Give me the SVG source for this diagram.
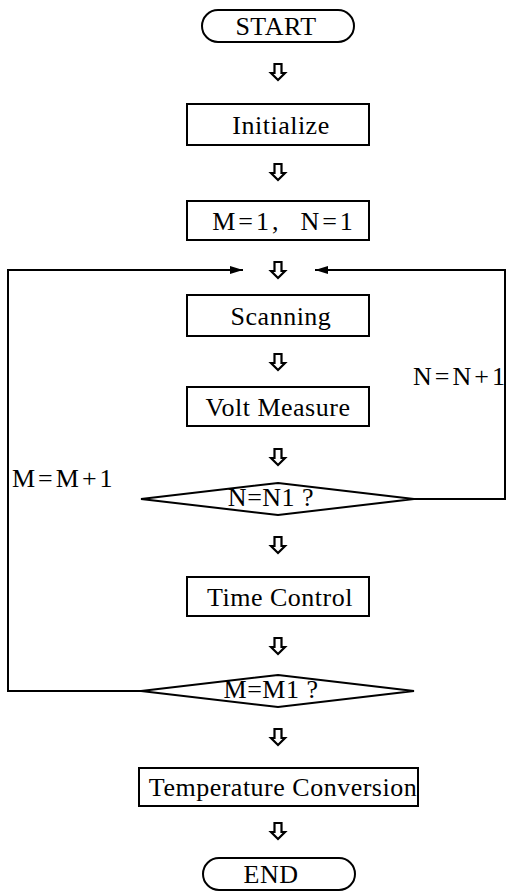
<svg xmlns="http://www.w3.org/2000/svg" xmlns:xlink="http://www.w3.org/1999/xlink" width="507" height="895" viewBox="0 0 507 895">
  <style>
    .shape { fill: #fff; stroke: #000; stroke-width: 2; }
    .wire { fill: none; stroke: #000; stroke-width: 2; }
    .lbl { font-family: "Liberation Serif", "Times New Roman", serif; font-size: 26px; letter-spacing: 0.5px; fill: #000; }
    .eq { letter-spacing: 3px; }
    .mid { text-anchor: middle; }
  </style>
  <defs>
    <!-- hollow down arrow used between steps -->
    <path id="flow" d="M-3.5,0 H3.5 V9 H7 L0,16 L-7,9 H-3.5 Z" fill="#fff" stroke="#000" stroke-width="2.2" stroke-linejoin="miter"/>
    <marker id="head" viewBox="0 0 13 8" refX="13" refY="4" markerWidth="13" markerHeight="8" markerUnits="userSpaceOnUse" orient="auto">
      <path d="M0,0 L13,4 L0,8 Z" fill="#000"/>
    </marker>
  </defs>
  <rect width="507" height="895" fill="#fff"/>

  <!-- loop connectors and step arrows -->
  <g id="connectors">
    <polyline class="wire" points="141,691 8,691 8,270 243,270" marker-end="url(#head)"/>
    <polyline class="wire" points="414,499 505,499 505,270 315,270" marker-end="url(#head)"/>
    <use xlink:href="#flow" x="278" y="64"/>
    <use xlink:href="#flow" x="278" y="164"/>
    <use xlink:href="#flow" x="278" y="262"/>
    <use xlink:href="#flow" x="278" y="354"/>
    <use xlink:href="#flow" x="278" y="449"/>
    <use xlink:href="#flow" x="278" y="537"/>
    <use xlink:href="#flow" x="278" y="638"/>
    <use xlink:href="#flow" x="278" y="729"/>
    <use xlink:href="#flow" x="278" y="823"/>
    <text class="lbl eq" x="413" y="385">N=N+1</text>
    <text class="lbl eq" x="12" y="487">M=M+1</text>
  </g>

  <g id="start">
    <rect class="shape" x="202" y="10" width="152" height="32" rx="16" ry="16"/>
    <text class="lbl mid" x="276" y="35">START</text>
  </g>
  <g id="initialize">
    <rect class="shape" x="187" y="104" width="182" height="41"/>
    <text class="lbl mid" x="281" y="134">Initialize</text>
  </g>
  <g id="set-mn">
    <rect class="shape" x="187" y="201" width="182" height="39"/>
    <text class="lbl eq mid" x="284" y="230" xml:space="preserve">M=1,  N=1</text>
  </g>
  <g id="scanning">
    <rect class="shape" x="187" y="295" width="182" height="41"/>
    <text class="lbl mid" x="281" y="325">Scanning</text>
  </g>
  <g id="volt-measure">
    <rect class="shape" x="187" y="387" width="182" height="39"/>
    <text class="lbl mid" x="278" y="416">Volt Measure</text>
  </g>
  <g id="check-n">
    <polygon class="shape" points="278,483 414,499 278,515 141,499"/>
    <text class="lbl mid" x="271" y="506">N=N1 ?</text>
  </g>
  <g id="time-control">
    <rect class="shape" x="187" y="577" width="182" height="39"/>
    <text class="lbl mid" x="280" y="606">Time Control</text>
  </g>
  <g id="check-m">
    <polygon class="shape" points="278,675 414,691 278,707 141,691"/>
    <text class="lbl mid" x="271" y="698">M=M1 ?</text>
  </g>
  <g id="temperature-conversion">
    <rect class="shape" x="139" y="768" width="279" height="38"/>
    <text class="lbl mid" x="283" y="796">Temperature Conversion</text>
  </g>
  <g id="end">
    <rect class="shape" x="203" y="858" width="152" height="32" rx="16" ry="16"/>
    <text class="lbl mid" x="271" y="883">END</text>
  </g>
</svg>
